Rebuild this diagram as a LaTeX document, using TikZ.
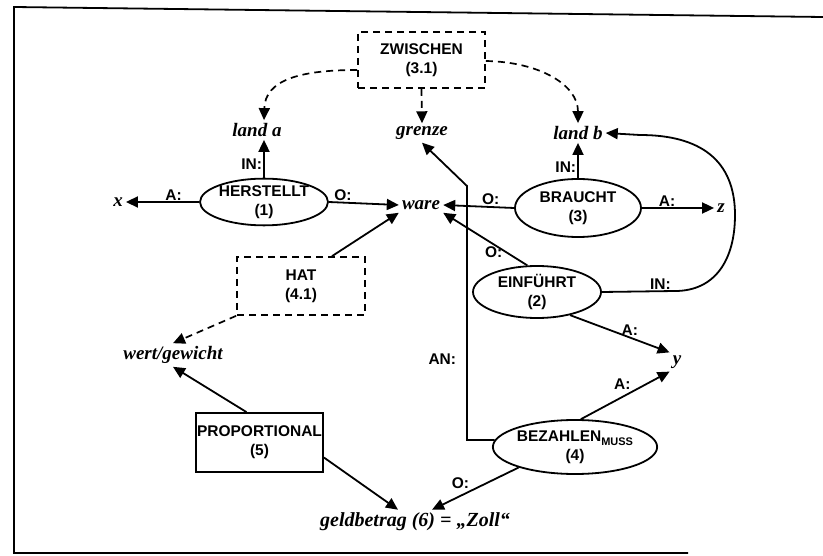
\documentclass[tikz,border=0pt]{standalone}
\usepackage{fontspec}
\setmainfont{Liberation Sans}
\newfontfamily\scriptf{Liberation Serif}
\usetikzlibrary{arrows.meta,shapes.geometric}
\begin{document}
\begin{tikzpicture}[x=1pt,y=-1pt,
  every node/.style={font=\bfseries\fontsize{15.5}{19}\selectfont},
  ln/.style={line width=1.8pt},
  arr/.style={ln, -{Triangle[length=12pt,width=11pt]}},
  dsh/.style={line width=1.7pt, dash pattern=on 7pt off 5pt},
  darr/.style={dsh, -{Triangle[length=12pt,width=11pt]}},
  oval/.style={ellipse, draw, line width=1.8pt, inner sep=0pt, align=center, minimum width=128pt},
  dbox/.style={draw, dsh, align=center, inner sep=0pt},
  sbox/.style={draw, line width=1.8pt, align=center, inner sep=0pt},
  scr/.style={font=\scriptf\bfseries\itshape\fontsize{19}{20}\selectfont, inner sep=3pt},
  lab/.style={font=\bfseries\fontsize{15.5}{18}\selectfont, inner sep=1pt}
]
\useasboundingbox (0,0) rectangle (823,556);
% frame
\draw[line width=1.8pt] (823,17) -- (14,7) -- (14,553) -- (688,553);

% nodes
\node[dbox, minimum width=127pt, minimum height=56pt] (zw) at (421.5,60) {ZWISCHEN\\(3.1)};
\node[scr] (landa) at (257,130) {land a};
\node[scr] (grenze) at (422,133) {grenze};
\node[scr] (landb) at (578,133) {land b};
\node[oval, minimum height=40pt] (h) at (264,202) {HERSTELLT\\(1)};
\node[scr] (x) at (118,202) {x};
\node[scr] (ware) at (421,205) {ware};
\node[oval, minimum width=126pt, minimum height=58pt] (b) at (578,208) {BRAUCHT\\(3)};
\node[scr] (z) at (721,208) {z};
\node[oval, minimum height=52pt] (e) at (537,292) {EINFÜHRT\\(2)};
\node[scr] (y) at (677,362) {y};
\node[oval, minimum height=54pt] (bz) at (575,447) {BEZAHLEN\raisebox{-4pt}{\fontsize{11}{11}\selectfont MUSS}\\(4)};
\node[dbox, minimum width=128pt, minimum height=58pt] (hat) at (301,286) {HAT\\(4.1)};
\node[scr] (wg) at (173,355) {wert/gewicht};
\node[sbox, minimum width=127pt, minimum height=59pt] (pr) at (259.5,442.5) {PROPORTIONAL\\(5)};
\node[scr, font=\scriptf\bfseries\itshape\fontsize{20}{21}\selectfont] (geld) at (415,522) {geldbetrag (6) = „Zoll“};

% dashed arrows from ZWISCHEN
\draw[darr] ([yshift=-10pt]zw.west) .. controls (300,70) and (265,80) .. (h.north |- landa.north);
\draw[darr] (zw.south) -- (grenze.north);
\draw[darr] ([yshift=-1pt]zw.east) .. controls (540,62) and (578,85) .. (landb.north);

% HERSTELLT
\draw[arr] (h.west) -- node[lab, pos=0.35, above]{A:} (x.east);
\draw[arr] (h.east) -- node[lab, pos=0.2, above]{O:} (ware.west);
\draw[arr] (h.north) -- node[lab, pos=0.35, left]{IN:} (h.north |- landa.south);

% BRAUCHT
\draw[arr] (b.west) -- node[lab, pos=0.33, above]{O:} (ware.east);
\draw[arr] (b.east) -- node[lab, pos=0.35, above]{A:} (z.west);
\draw[arr] (b.north) -- node[lab, pos=0.3, left]{IN:} (landb.south);

% EINFUEHRT
\draw[arr] (e.110) -- node[lab, pos=0.4, below]{O:} (ware.south east);
\draw[arr] (e.east) -- node[lab, pos=0.8, above]{IN:} (675,291)
   .. controls (715,291) and (735,260) .. (735,215)
   .. controls (735,160) and (700,135) .. (640,135) -- (landb.east);
\draw[arr] (e.-35) -- node[lab, pos=0.6, above]{A:} (y.north west);

% BEZAHLEN
\coordinate (an) at (467,186);
\draw[arr] (bz.78) -- node[lab, pos=0.58, above left]{A:} (y.south west);
\draw[arr] (bz.175) -| node[lab, pos=0.66, left=9pt]{AN:} (an) -- (grenze.south);
\draw[arr] (bz.200) -- node[lab, pos=0.55, above left]{O:} ([xshift=17pt]geld.north);

% HAT
\draw[arr] ([xshift=31pt]hat.north) -- (ware.south west);
\draw[darr] (hat.south west) -- (wg.north);

% PROPORTIONAL
\draw[arr] ([xshift=-13pt]pr.north) -- (wg.south);
\draw[arr] ([yshift=-15pt]pr.east) -- ([xshift=-17pt]geld.north);
\end{tikzpicture}
\end{document}
